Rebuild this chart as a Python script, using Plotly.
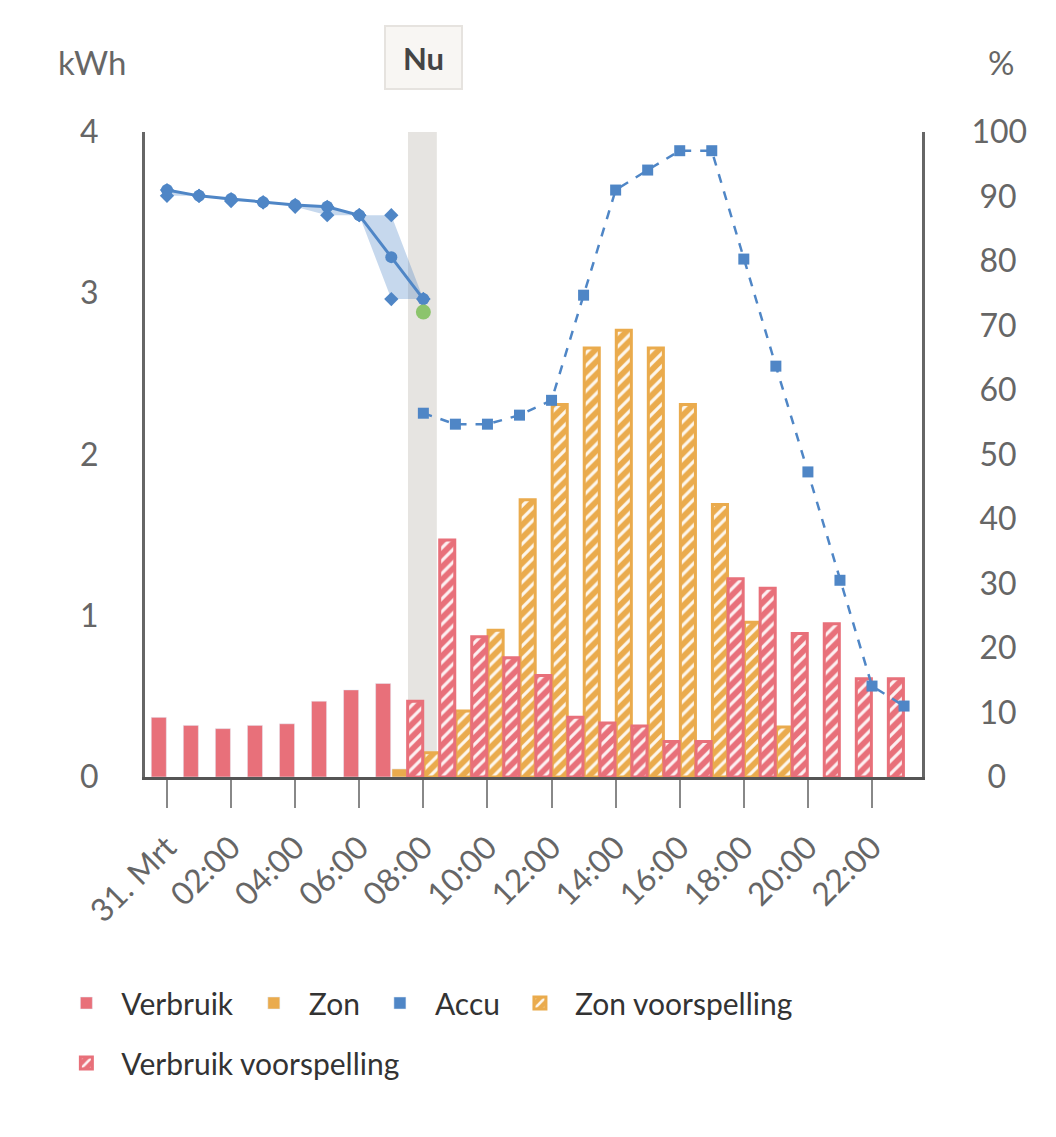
import plotly.graph_objects as go

# ---------------- data ----------------
hours = list(range(24))
tick_hours = [0, 2, 4, 6, 8, 10, 12, 14, 16, 18, 20, 22]
tick_labels = ["31. Mrt", "02:00", "04:00", "06:00", "08:00", "10:00",
               "12:00", "14:00", "16:00", "18:00", "20:00", "22:00"]
kwh_ticks = [0, 1, 2, 3, 4]
pct_ticks = [0, 10, 20, 30, 40, 50, 60, 70, 80, 90, 100]

verbruik = [0.37, 0.32, 0.30, 0.32, 0.33, 0.47, 0.54, 0.58] + [None] * 16
verbruik_voorspelling = [None] * 8 + [0.47, 1.47, 0.87, 0.74, 0.63, 0.37, 0.335, 0.316,
                                      0.22, 0.22, 1.23, 1.17, 0.89, 0.95, 0.61, 0.61]
zon = [None] * 7 + [0.05] + [None] * 16
zon_voorspelling = [None] * 8 + [0.15, 0.41, 0.91, 1.72, 2.31, 2.66, 2.77, 2.66,
                                 2.31, 1.69, 0.96, 0.31, None, None, None, None]

accu_hours = list(range(9))
accu = [91.0, 90.1, 89.6, 89.1, 88.7, 88.4, 87.1, 80.6, 74.1]
accu_max = [91.0, 90.1, 89.6, 89.1, 88.7, 88.4, 87.1, 87.1, 74.1]
accu_min = [90.1, 90.1, 89.3, 89.1, 88.4, 87.1, 87.1, 74.1, 74.1]
accu_nu_hour = [8]
accu_nu = [72.1]
accu_fc_hours = list(range(8, 24))
accu_voorspelling = [56.4, 54.7, 54.7, 56.1, 58.4, 74.7, 91.0, 94.1,
                     97.1, 97.1, 80.3, 63.7, 47.3, 30.5, 14.1, 11.0]

# ---------------- style ----------------
RED = "#e8707a"
ORANGE = "#eaab4d"
BLUE = "#4f86c6"
GREEN = "#8cc46c"
FONT = "Lato"
BW = 0.47


def pct_label(v):
    s = str(v)
    if len(s) == 1:
        return "\u2002" + s
    if len(s) == 2:
        return "\u2005" + s
    return s


fig = go.Figure()

fig.add_trace(go.Bar(x=hours, y=verbruik, name="Verbruik", marker_color=RED,
                     offset=-0.49, width=BW, legend="legend", legendrank=1))
fig.add_trace(go.Bar(x=hours, y=zon, name="Zon", marker_color=ORANGE,
                     offset=0.02, width=BW, legend="legend", legendrank=2))
fig.add_trace(go.Bar(x=[None], y=[None], name="Accu", marker_color=BLUE,
                     legend="legend", legendrank=3))
fig.add_trace(go.Bar(x=hours, y=zon_voorspelling, name="Zon voorspelling",
                     marker=dict(color=ORANGE, line=dict(color=ORANGE, width=3),
                                 pattern=dict(shape="/", fgcolor="white", fgopacity=0.9,
                                              size=9, solidity=0.35)),
                     offset=0.02, width=BW, legend="legend", legendrank=4))
fig.add_trace(go.Bar(x=hours, y=verbruik_voorspelling, name="Verbruik voorspelling",
                     marker=dict(color=RED, line=dict(color=RED, width=3),
                                 pattern=dict(shape="/", fgcolor="white", fgopacity=0.9,
                                              size=9, solidity=0.35)),
                     offset=-0.49, width=BW, legend="legend2", legendrank=5))

# accu range band (min/max)
fig.add_trace(go.Scatter(x=accu_hours, y=accu_max, yaxis="y2", mode="lines+markers",
                         marker=dict(symbol="diamond", size=11, color=BLUE),
                         line=dict(width=0, color=BLUE), showlegend=False,
                         hoverinfo="skip"))
fig.add_trace(go.Scatter(x=accu_hours, y=accu_min, yaxis="y2", mode="lines+markers",
                         marker=dict(symbol="diamond", size=11, color=BLUE),
                         fill="tonexty", fillcolor="rgba(79,134,198,0.32)",
                         line=dict(width=0, color=BLUE), showlegend=False,
                         hoverinfo="skip"))
fig.add_trace(go.Scatter(x=accu_hours, y=accu, yaxis="y2", mode="lines+markers",
                         line=dict(color=BLUE, width=3),
                         marker=dict(symbol="circle", size=12, color=BLUE),
                         showlegend=False))
fig.add_trace(go.Scatter(x=accu_fc_hours, y=accu_voorspelling, yaxis="y2",
                         mode="lines+markers",
                         line=dict(color=BLUE, width=2.5, dash="dash"),
                         marker=dict(symbol="square", size=11, color=BLUE),
                         showlegend=False))
fig.add_trace(go.Scatter(x=accu_nu_hour, y=accu_nu, yaxis="y2", mode="markers",
                         marker=dict(symbol="circle", size=15, color=GREEN),
                         showlegend=False))

fig.add_shape(type="rect", xref="x", yref="paper", x0=7.52, x1=8.42, y0=0, y1=1,
              fillcolor="#e6e4e1", line=dict(width=0), layer="below")

fig.add_annotation(text="<b>Nu</b>", xref="x", yref="paper", x=8.0, y=1.116,
                   xanchor="center", yanchor="middle",
                   showarrow=False, font=dict(family=FONT, size=31, color="#444"),
                   bgcolor="#f8f6f3", bordercolor="#e6e3df", borderwidth=2,
                   width=75, height=61, borderpad=0)
fig.add_annotation(text="kWh", xref="paper", yref="paper", x=-0.068, y=1.1085,
                   xanchor="center", yanchor="middle",
                   showarrow=False, font=dict(family=FONT, size=33, color="#666"))
fig.add_annotation(text="%", xref="paper", yref="paper", x=1.1017, y=1.1085,
                   xanchor="center", yanchor="middle",
                   showarrow=False, font=dict(family=FONT, size=33, color="#666"))

legend_common = dict(orientation="h", xanchor="left", yanchor="middle",
                     font=dict(family=FONT, size=30, color="#333"),
                     traceorder="normal", itemclick=False, itemwidth=60,
                     bgcolor="rgba(0,0,0,0)")

fig.update_layout(
    width=1056, height=1137,
    margin=dict(l=145, r=134, t=132, b=360),
    paper_bgcolor="white", plot_bgcolor="white",
    barmode="overlay",
    font=dict(family=FONT, color="#666"),
    showlegend=True,
    legend=dict(x=-0.1205, y=(777 - 1003) / 645, **legend_common),
    legend2=dict(x=-0.1205, y=(777 - 1063) / 645, **legend_common),
    xaxis=dict(range=[-0.686, 23.56], tickmode="array", tickvals=tick_hours,
               ticktext=tick_labels, tickangle=-45, ticks="outside", ticklen=28,
               tickwidth=2, tickcolor="#888", showgrid=False, zeroline=False,
               showline=True, linecolor="#555", linewidth=3,
               ticklabelstandoff=8,
               tickfont=dict(family=FONT, size=32, color="#666")),
    yaxis=dict(range=[0, 4], tickmode="array", tickvals=kwh_ticks,
               showgrid=False, zeroline=False,
               showline=True, linecolor="#666", linewidth=3,
               ticklabelstandoff=37,
               tickfont=dict(family=FONT, size=32, color="#666")),
    yaxis2=dict(range=[0, 100], tickmode="array", tickvals=pct_ticks,
                ticktext=[pct_label(v) for v in pct_ticks], overlaying="y",
                side="right", showgrid=False, zeroline=False,
                showline=True, linecolor="#666", linewidth=3,
                ticklabelstandoff=40,
                tickfont=dict(family=FONT, size=32, color="#666")),
)

fig.write_html("out.html")
